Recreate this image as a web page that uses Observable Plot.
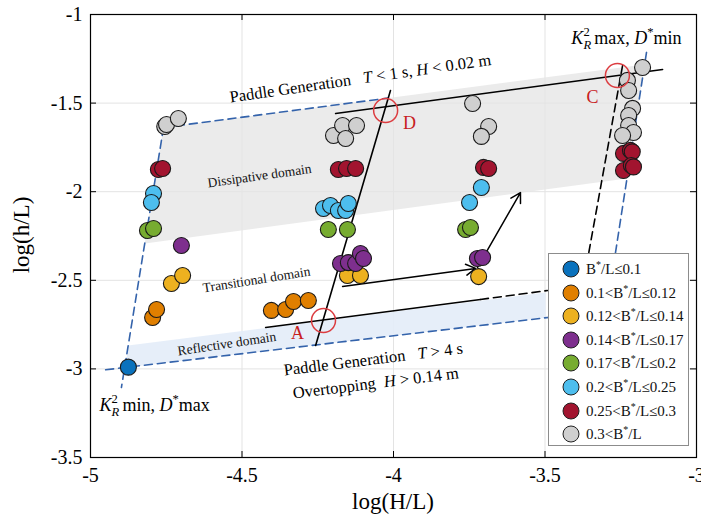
<!DOCTYPE html>
<html>
<head>
<meta charset="utf-8">
<script src="https://cdn.jsdelivr.net/npm/d3@7"></script>
<script src="https://cdn.jsdelivr.net/npm/@observablehq/plot@0.6"></script>
<style>
  body { margin: 0; background: #fff; }
  #wrap { position: relative; width: 701px; height: 519px; font-family: "Liberation Serif", "Times New Roman", serif; }
  #wrap svg text { font-family: "Liberation Serif", "Times New Roman", serif !important; }
  #legend { position: absolute; left: 548px; top: 253px; width: 139px; height: 191px; border: 1px solid #8c8c8c; background: #fff; font-family: "Liberation Serif", "Times New Roman", serif; }
  .lrow { position: absolute; left: 0; height: 18px; width: 139px; }
  .lrow svg { position: absolute; left: 13px; top: 0; }
  .lrow span.t { position: absolute; left: 37px; top: 0; line-height: 18px; font-size: 15px; white-space: nowrap; color: #111; }
  .lrow sup { font-size: 10px; vertical-align: 6px; line-height: 0; }
</style>
</head>
<body>
<div id="wrap"><div id="legend"></div></div>
<script>
// ---------- data ----------
const groups = ["B*/L≤0.1", "0.1<B*/L≤0.12", "0.12<B*/L≤0.14", "0.14<B*/L≤0.17",
                "0.17<B*/L≤0.2", "0.2<B*/L≤0.25", "0.25<B*/L≤0.3", "0.3<B*/L"];
const groupColors = ["#0a72bd", "#e07f00", "#edb120", "#7e2f8e", "#77ac30", "#4dbeee", "#a2142f", "#cfcfcf"];

// log(H/L) and log(h/L) per group
const g0x = [-4.875], g0y = [-2.99];
const g1x = [-4.795, -4.782, -4.403, -4.356, -4.330, -4.281];
const g1y = [-2.710, -2.665, -2.670, -2.665, -2.620, -2.614];
const g2x = [-4.733, -4.696, -4.152, -4.109, -3.719];
const g2y = [-2.518, -2.473, -2.473, -2.473, -2.479];
const g3x = [-4.700, -4.175, -4.149, -4.125, -4.109, -4.099, -3.723, -3.706];
const g3y = [-2.304, -2.405, -2.400, -2.405, -2.349, -2.377, -2.377, -2.371];
const g4x = [-4.812, -4.792, -4.215, -4.152, -3.762, -3.746];
const g4y = [-2.219, -2.208, -2.213, -2.213, -2.213, -2.202];
const g5x = [-4.792, -4.799, -4.231, -4.208, -4.182, -4.158, -4.149, -3.710, -3.749];
const g5y = [-2.010, -2.061, -2.095, -2.078, -2.106, -2.106, -2.067, -1.976, -2.061];
const g6x = [-4.776, -4.762, -4.182, -4.155, -4.125, -3.703, -3.686, -3.241, -3.218, -3.212, -3.241, -3.215, -3.208];
const g6y = [-1.875, -1.869, -1.875, -1.869, -1.869, -1.863, -1.869, -1.784, -1.767, -1.775, -1.880, -1.852, -1.860];
const g7x = [-4.755, -4.749, -4.710, -4.198, -4.168, -4.122, -4.158, -3.739, -3.686, -3.710,
             -3.178, -3.228, -3.224, -3.211, -3.224, -3.224, -3.208, -3.244];
const g7y = [-1.632, -1.621, -1.587, -1.683, -1.626, -1.626, -1.700, -1.502, -1.632, -1.688,
             -1.299, -1.372, -1.429, -1.530, -1.570, -1.626, -1.666, -1.683];

const xTicks = [-5, -4.5, -4, -3.5, -3];
const yTicks = [-3.5, -3, -2.5, -2, -1.5, -1];

// domain regions and guide lines (data coordinates)
const dissipativeBand = [[-4.759, -1.638], [-3.172, -1.282], [-3.230, -1.926], [-4.821, -2.292]];
const reflectiveBand  = [[-4.876, -2.868], [-3.498, -2.569], [-3.498, -2.712], [-4.884, -2.992]];
const edgeLeft   = [[-4.759, -1.638], [-4.898, -3.105]];
const edgeTop    = [[-4.759, -1.638], [-4.020, -1.472]];
const edgeBottom = [[-4.950, -3.005], [-3.297, -2.671]];
const edgeRight  = [[-3.165, -1.214], [-3.297, -2.671]];
const lineT1     = [[-4.191, -1.559], [-3.112, -1.310]];
const lineT4     = [[-4.422, -2.766], [-3.713, -2.608]];
const lineT4Ext  = [[-3.713, -2.608], [-3.492, -2.558]];
const lineAD     = [[-4.257, -2.868], [-4.010, -1.429]];
const lineC      = [[-3.244, -1.288], [-3.356, -2.349]];
const arrowX1 = [-4.168, -3.723], arrowY1 = [-2.535, -2.428];
const arrowX2 = [-3.729, -3.581], arrowY2 = [-2.433, -2.005];
const markLetters = ["A", "D", "C"];
const markCircleX = [-4.231, -4.026, -3.261], markCircleY = [-2.727, -1.542, -1.344];
const markLetterX = [-4.317, -3.947, -3.343], markLetterY = [-2.800, -1.615, -1.468];

const bigNotes = [
  {x: -4.538, y: -1.497, a: -8.2, t: "Paddle Generation   <i>T</i> &lt; 1 s, <i>H</i> &lt; 0.02 m"},
  {x: -4.360, y: -3.037, a: -7.0, t: "Paddle Generation   <i>T</i> &gt; 4 s"},
  {x: -4.330, y: -3.167, a: -7.0, t: "Overtopping  <i>H</i> &gt; 0.14 m"}
];
const krNotes = [
  {x: -3.413, y: -1.164, t: "<i>K</i><sub>R</sub><sup>2</sup> max, <i>D</i><sup>*</sup>min"},
  {x: -4.970, y: -3.235, t: "<i>K</i><sub>R</sub><sup>2</sup> min, <i>D</i><sup>*</sup>max"}
];
const domainNotes = [
  {x: -4.611, y: -1.976, a: -8, t: "Dissipative domain"},
  {x: -4.627, y: -2.569, a: -9, t: "Transitional domain"},
  {x: -4.710, y: -2.924, a: -8.5, t: "Reflective domain"}
];

// ---------- build ----------
const gx = [g0x, g1x, g2x, g3x, g4x, g5x, g6x, g7x];
const gy = [g0y, g1y, g2y, g3y, g4y, g5y, g6y, g7y];
const points = [];
gx.forEach((xs, gi) => xs.forEach((x, j) => points.push({x, y: gy[gi][j], group: groups[gi]})));

const px = d => d[0], py = d => d[1];
const blue = "#3463ab";
const dash = "8,5";
const closed = a => a.concat([a[0]]);
const serif = "'Liberation Serif', 'Times New Roman', serif";

const chart = Plot.plot({
  width: 701, height: 519,
  marginTop: 14, marginRight: 5, marginBottom: 62, marginLeft: 90,
  style: {fontFamily: serif, fontSize: "20px", color: "black", background: "white"},
  x: {domain: [-5, -3], ticks: xTicks, tickFormat: d => String(d), tickSize: 0, tickPadding: 10, label: null},
  y: {domain: [-3.5, -1], ticks: yTicks, tickFormat: d => String(d), tickSize: 0, tickPadding: 8, label: null},
  color: {domain: groups, range: groupColors},
  marks: [
    Plot.ruleX(xTicks, {stroke: "#e3e3e3", strokeWidth: 1}),
    Plot.ruleY(yTicks, {stroke: "#e3e3e3", strokeWidth: 1}),
    Plot.line(closed(dissipativeBand), {x: px, y: py, fill: "#e4e4e4", fillOpacity: 0.75, stroke: "none"}),
    Plot.line(closed(reflectiveBand), {x: px, y: py, fill: "#e3ecf8", fillOpacity: 0.9, stroke: "none"}),
    Plot.line(edgeLeft, {x: px, y: py, stroke: blue, strokeWidth: 1.6, strokeDasharray: dash}),
    Plot.line(edgeTop, {x: px, y: py, stroke: blue, strokeWidth: 1.6, strokeDasharray: dash}),
    Plot.line(edgeBottom, {x: px, y: py, stroke: blue, strokeWidth: 1.6, strokeDasharray: dash}),
    Plot.line(edgeRight, {x: px, y: py, stroke: blue, strokeWidth: 1.6, strokeDasharray: dash}),
    Plot.line(lineT1, {x: px, y: py, stroke: "black", strokeWidth: 1.6}),
    Plot.line(lineT4, {x: px, y: py, stroke: "black", strokeWidth: 1.6}),
    Plot.line(lineT4Ext, {x: px, y: py, stroke: "black", strokeWidth: 1.6, strokeDasharray: dash}),
    Plot.line(lineAD, {x: px, y: py, stroke: "black", strokeWidth: 1.6}),
    Plot.line(lineC, {x: px, y: py, stroke: "black", strokeWidth: 1.6, strokeDasharray: dash}),
    Plot.arrow(arrowX1, {x1: (d, i) => arrowX1[i], y1: (d, i) => arrowY1[i], x2: (d, i) => arrowX2[i], y2: (d, i) => arrowY2[i],
                         stroke: "black", strokeWidth: 1.5, headLength: 11}),
    Plot.dot(points, {x: "x", y: "y", fill: "group", r: 8, stroke: "#1a1a1a", strokeWidth: 1.1}),
    Plot.dot(markLetters, {x: (d, i) => markCircleX[i], y: (d, i) => markCircleY[i], r: 12, stroke: "#dc3c40", strokeWidth: 1.5, fill: "none"}),
    Plot.text(markLetters, {x: (d, i) => markLetterX[i], y: (d, i) => markLetterY[i], text: d => d, fill: "#c8201e", fontSize: 18}),
    Plot.text(bigNotes, {x: "x", y: "y", rotate: "a", text: "t", textAnchor: "start", lineAnchor: "bottom", fontSize: 16.5, fill: "black"}),
    Plot.text(krNotes, {x: "x", y: "y", text: "t", textAnchor: "start", lineAnchor: "bottom", fontSize: 18, fill: "black"}),
    Plot.text(domainNotes, {x: "x", y: "y", rotate: "a", text: "t", textAnchor: "start", lineAnchor: "bottom", fontSize: 13.5, fill: "#111"}),
    Plot.ruleX(xTicks, {insetTop: 437, stroke: "black"}),
    Plot.ruleX(xTicks, {insetBottom: 437, stroke: "black"}),
    Plot.ruleY(yTicks, {insetRight: 600, stroke: "black"}),
    Plot.ruleY(yTicks, {insetLeft: 600, stroke: "black"}),
    Plot.frame({stroke: "black", strokeWidth: 1.2})
  ]
});

const wrap = document.getElementById("wrap");
wrap.insertBefore(chart, wrap.firstChild);
chart.style.position = "absolute";
chart.style.left = "0px";
chart.style.top = "0px";

// rich text (italic, sub/superscripts)
const SVGNS = "http://www.w3.org/2000/svg";
function richify(el) {
  const markup = el.textContent;
  if (!/<i>|<sub>|<sup>|&lt;|&gt;/.test(markup)) return;
  el.textContent = "";
  el.style.whiteSpace = "pre";
  el.setAttributeNS("http://www.w3.org/XML/1998/namespace", "xml:space", "preserve");
  const fs = parseFloat(getComputedStyle(el).fontSize) || 16;
  const re = /<(i|sub|sup)>(.*?)<\/\1>|([^<]+)/g;
  let m, shift = 0, prevSubLen = 0, prevSub = false;
  while ((m = re.exec(markup))) {
    const tag = m[1];
    const str = (m[2] !== undefined ? m[2] : m[3]).replace(/&lt;/g, "<").replace(/&gt;/g, ">");
    const ts = document.createElementNS(SVGNS, "tspan");
    ts.textContent = str;
    let target = 0;
    if (tag === "i") ts.setAttribute("font-style", "italic");
    if (tag === "sub") { target = 0.3 * fs; ts.setAttribute("font-style", "italic"); ts.setAttribute("font-size", 0.7 * fs); }
    if (tag === "sup") { target = -0.42 * fs; ts.setAttribute("font-size", 0.7 * fs); if (prevSub) ts.setAttribute("dx", -prevSubLen); }
    if (target !== shift) ts.setAttribute("dy", target - shift);
    shift = target;
    el.appendChild(ts);
    if (tag === "sub") { prevSubLen = ts.getComputedTextLength(); prevSub = true; } else prevSub = false;
  }
}
chart.querySelectorAll("text").forEach(richify);

// axis titles
const svg = d3.select(chart);
svg.append("text").attr("x", 393).attr("y", 509).attr("text-anchor", "middle")
  .attr("font-size", 23).attr("fill", "black").text("log(H/L)");
svg.append("text").attr("transform", "translate(29,235) rotate(-90)").attr("text-anchor", "middle")
  .attr("font-size", 23).attr("fill", "black").text("log(h/L)");

// legend
const legend = d3.select("#legend");
groups.forEach((g, i) => {
  const row = legend.append("div").attr("class", "lrow").style("top", (6 + i * 23.6) + "px");
  const s = row.append("svg").attr("width", 18).attr("height", 18);
  s.append("circle").attr("cx", 9).attr("cy", 9).attr("r", 8).attr("fill", groupColors[i]).attr("stroke", "#222").attr("stroke-width", 1);
  const parts = g.split("*");
  const t = row.append("span").attr("class", "t");
  t.append("span").text(parts[0]);
  t.append("sup").text("*");
  t.append("span").text(parts[1]);
});
</script>
</body>
</html>
